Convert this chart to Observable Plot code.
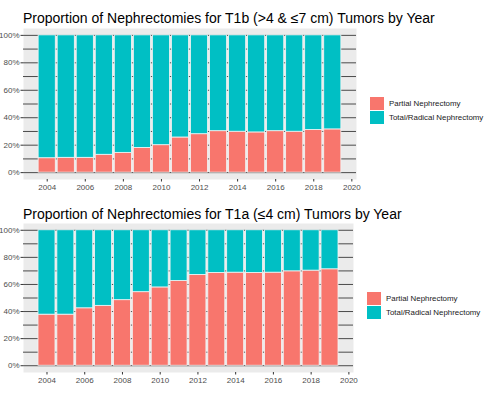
<!DOCTYPE html>
<html>
<head>
<meta charset="utf-8">
<script src="https://cdn.jsdelivr.net/npm/d3@7"></script>
<script src="https://cdn.jsdelivr.net/npm/@observablehq/plot@0.6"></script>
<style>
  body { margin: 0; background: #fff; font-family: "Liberation Sans", Arial, sans-serif; }
  #root { position: relative; width: 487px; height: 398px; overflow: hidden; }
  .title { position: absolute; left: 23px; font-size: 14px; color: #000; white-space: nowrap; }
  .plot { position: absolute; left: 0; }
  .plot svg { overflow: visible; }
  .legend { position: absolute; font-size: 7.9px; color: #1a1a1a; }
  .legend .row { display: flex; align-items: center; height: 14.5px; }
  .legend .sw { width: 14px; height: 13px; margin-right: 5px; }
</style>
</head>
<body>
<div id="root"></div>
<script>
const years = [2004,2005,2006,2007,2008,2009,2010,2011,2012,2013,2014,2015,2016,2017,2018,2019];
const categories = ["Partial Nephrectomy", "Total/Radical Nephrectomy"];
const colors = ["#F8766D", "#00BFC4"];
const xTicks = [2004,2006,2008,2010,2012,2014,2016,2018,2020];
const yTicks = [0,0.2,0.4,0.6,0.8,1];
// share of partial nephrectomy per year
const partialT1b = [0.105,0.108,0.108,0.13,0.144,0.18,0.20,0.256,0.28,0.302,0.298,0.293,0.302,0.298,0.31,0.315];
const partialT1a = [0.377,0.377,0.424,0.442,0.484,0.543,0.578,0.625,0.67,0.685,0.687,0.685,0.687,0.697,0.702,0.712];

const titles = [
  "Proportion of Nephrectomies for T1b (>4 & \u22647 cm) Tumors by Year",
  "Proportion of Nephrectomies for T1a (\u22644 cm) Tumors by Year"
];

function rows(partial) {
  const out = [];
  years.forEach((y, i) => {
    out.push({year: y, type: categories[0], y1: 0, y2: partial[i]});
    out.push({year: y, type: categories[1], y1: partial[i], y2: 1});
  });
  return out;
}

function makePlot(partial, opts) {
  return Plot.plot({
    width: opts.width,
    height: opts.height,
    marginLeft: 23,
    marginRight: opts.marginRight,
    marginTop: opts.marginTop,
    marginBottom: opts.marginBottom,
    style: {fontFamily: "'Liberation Sans', Arial, sans-serif", fontSize: "8px", color: "#4d4d4d", background: "transparent", overflow: "visible"},
    x: {domain: [2002.755, 2020.245], label: null},
    y: {domain: [-0.05, 1.05], label: null},
    color: {domain: categories, range: colors},
    marks: [
      Plot.frame({fill: "#EBEBEB", stroke: null}),
      Plot.ruleY(d3.range(0, 11).map(d => d / 10), {stroke: "#4a4a4a", strokeWidth: 1}),
      Plot.rect(rows(partial), {
        x1: d => d.year - 0.45, x2: d => d.year + 0.45,
        y1: "y1", y2: "y2", fill: "type", stroke: "#f4f4f4", strokeWidth: 0.8
      }),
      Plot.axisX({ticks: xTicks, tickFormat: d => String(d), tickSize: 2.5, tickPadding: 2, stroke: "#333", fill: "#4d4d4d"}),
      Plot.axisY({ticks: yTicks, tickFormat: d => Math.round(d * 100) + "%", tickSize: 2.5, tickPadding: 1.5, stroke: "#333", fill: "#4d4d4d"})
    ]
  });
}

const root = document.getElementById("root");

function addPanel(top, title, titleTop, partial, opts, legendLeft, legendTop) {
  const t = document.createElement("div");
  t.className = "title";
  t.style.top = titleTop + "px";
  t.textContent = title;
  root.appendChild(t);
  const p = document.createElement("div");
  p.className = "plot";
  p.style.top = top + "px";
  p.appendChild(makePlot(partial, opts));
  root.appendChild(p);
  const lg = document.createElement("div");
  lg.className = "legend";
  lg.style.left = legendLeft + "px";
  lg.style.top = legendTop + "px";
  categories.forEach((c, i) => {
    const r = document.createElement("div");
    r.className = "row";
    const sw = document.createElement("div");
    sw.className = "sw";
    sw.style.background = colors[i];
    const tx = document.createElement("span");
    tx.textContent = c;
    r.appendChild(sw);
    r.appendChild(tx);
    lg.appendChild(r);
  });
  root.appendChild(lg);
}

addPanel(0, titles[0], 10, partialT1b, {width: 358, height: 196, marginRight: 2, marginTop: 28, marginBottom: 17}, 370, 96);
addPanel(200, titles[1], 206, partialT1a, {width: 355, height: 190, marginRight: 2, marginTop: 23, marginBottom: 18}, 367, 291);
</script>
</body>
</html>
